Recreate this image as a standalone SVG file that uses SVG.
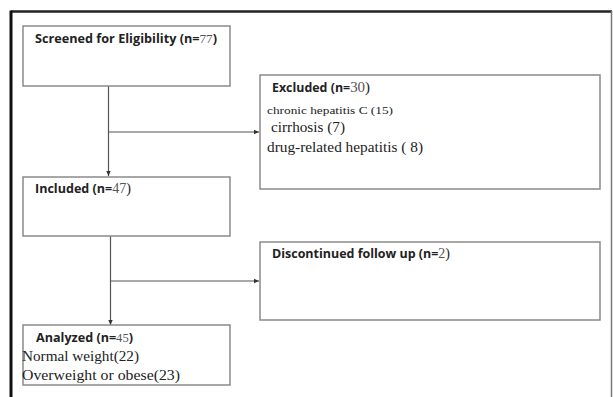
<svg xmlns="http://www.w3.org/2000/svg" width="613" height="397" viewBox="0 0 613 397">
<style>
.box{fill:#fff;stroke:#8a8a8a;stroke-width:1.5}
.conn{stroke:#555;stroke-width:1.2;fill:none}
.sb{font-family:"Open Sans","Liberation Sans",sans-serif;font-weight:bold;fill:#222;font-size:12.5px}
.sr{font-family:"Liberation Serif",serif;font-weight:normal;fill:#222}
.num{font-family:"Liberation Serif",serif;font-weight:normal;fill:#555}
</style>
<defs>
<marker id="ah" markerWidth="6" markerHeight="6" refX="5" refY="3" orient="auto" markerUnits="userSpaceOnUse">
<path d="M0,0.8 L5,3 L0,5.2 Z" fill="#333"/>
</marker>
</defs>
<rect x="0" y="0" width="613" height="397" fill="#fff"/>
<g id="frame">
<line x1="11" y1="11.5" x2="612" y2="11.5" stroke="#222" stroke-width="2.5"/>
<line x1="11" y1="10.5" x2="11" y2="397" stroke="#111" stroke-width="3"/>
<line x1="611.5" y1="11" x2="611.5" y2="397" stroke="#777" stroke-width="1.5"/>
</g>
<g id="connectors">
<line class="conn" x1="108.5" y1="86" x2="108.5" y2="176" marker-end="url(#ah)"/>
<line class="conn" x1="108.5" y1="132" x2="259" y2="132" marker-end="url(#ah)"/>
<line class="conn" x1="110.5" y1="236" x2="110.5" y2="325" marker-end="url(#ah)"/>
<line class="conn" x1="110.5" y1="281" x2="259" y2="281" marker-end="url(#ah)"/>
</g>
<g id="screened">
<rect class="box" x="23" y="26" width="207" height="60"/>
<text class="sb" x="35" y="42.5" textLength="182" lengthAdjust="spacingAndGlyphs">Screened for Eligibility (n=<tspan class="num" font-size="13">77</tspan>)</text>
</g>
<g id="excluded">
<rect class="box" x="260" y="75" width="340" height="114"/>
<text class="sb" x="272" y="91.5" textLength="98" lengthAdjust="spacingAndGlyphs">Excluded (n=<tspan class="num" font-size="15">30</tspan><tspan class="sr" font-size="15">)</tspan></text>
<text class="sr" x="267" y="114" font-size="11" textLength="126" lengthAdjust="spacingAndGlyphs">chronic hepatitis C (15)</text>
<text class="sr" x="271" y="131.5" font-size="14" textLength="74" lengthAdjust="spacingAndGlyphs">cirrhosis (7)</text>
<text class="sr" x="267" y="151.5" font-size="14" textLength="156" lengthAdjust="spacingAndGlyphs">drug-related hepatitis ( 8)</text>
</g>
<g id="included">
<rect class="box" x="23" y="177" width="207" height="59"/>
<text class="sb" x="35" y="193" textLength="96" lengthAdjust="spacingAndGlyphs">Included (n=<tspan class="num" font-size="14">47</tspan><tspan class="sr" font-size="14">)</tspan></text>
</g>
<g id="discontinued">
<rect class="box" x="260" y="242" width="340" height="78"/>
<text class="sb" x="272" y="258" font-weight="600" textLength="178" lengthAdjust="spacingAndGlyphs">Discontinued follow up (n=<tspan class="num" font-size="14">2</tspan><tspan class="sr" font-size="14">)</tspan></text>
</g>
<g id="analyzed">
<rect class="box" x="23" y="325" width="207" height="60"/>
<text class="sb" x="36" y="341.5" textLength="97" lengthAdjust="spacingAndGlyphs">Analyzed (n=<tspan class="num" font-size="12.5">45</tspan>)</text>
<text class="sr" x="22" y="361" font-size="14.5" textLength="117" lengthAdjust="spacingAndGlyphs">Normal weight(22)</text>
<text class="sr" x="22" y="380" font-size="14.5" textLength="158" lengthAdjust="spacingAndGlyphs">Overweight or obese(23)</text>
</g>
</svg>
